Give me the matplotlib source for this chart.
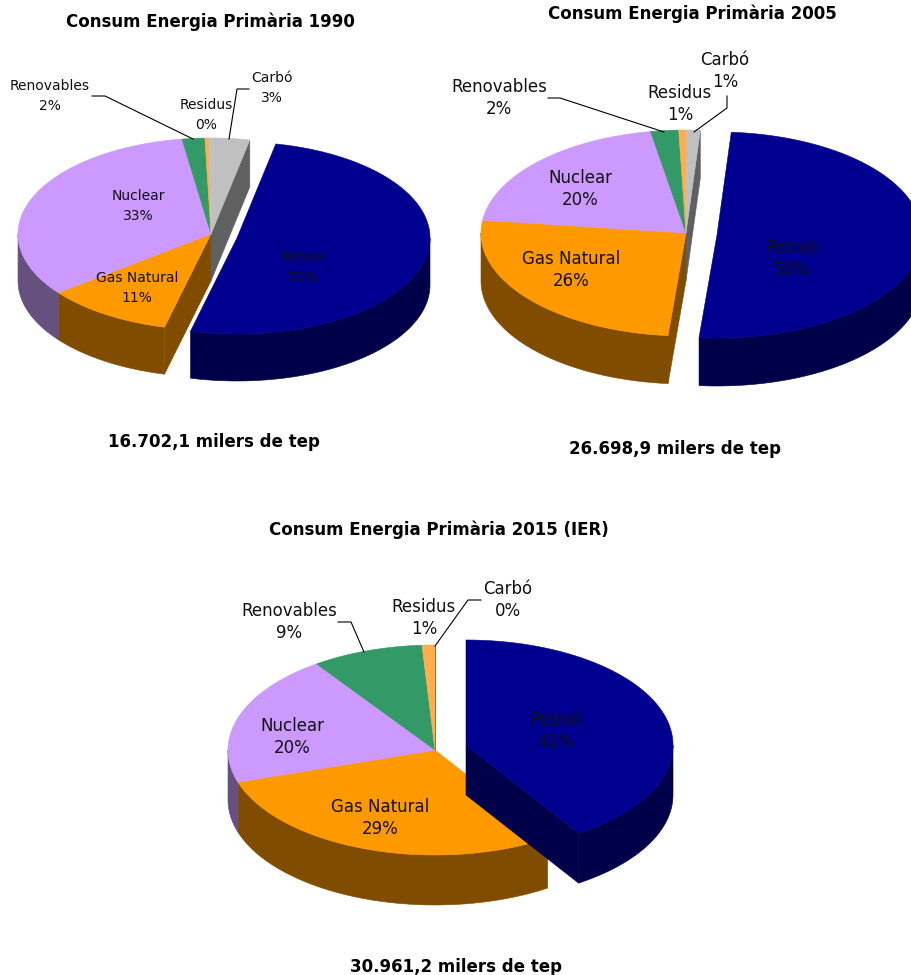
#!/usr/bin/env python3
# -*- coding: utf-8 -*-
# Consum d'energia primaria: tres pastissos 3D dibuixats a mà

import numpy as np
import matplotlib
matplotlib.use('Agg')
import matplotlib.pyplot as plt
from matplotlib.patches import Polygon

W, H = 912, 975

fonts = ['Petroli', 'Gas Natural', 'Nuclear', 'Renovables', 'Residus', 'Carbó']
valors_1990 = [50.7, 10.67, 33.1, 1.9, 0.33, 3.4]
valors_2005 = [50.3, 25.6, 20.25, 2.2, 0.6, 1.08]
valors_2015 = [40.85, 29.2, 20.25, 8.7, 1, 0]
pct_1990 = ['51%', '11%', '33%', '2%', '0%', '3%']
pct_2005 = ['50%', '26%', '20%', '2%', '1%', '1%']
pct_2015 = ['41%', '29%', '20%', '9%', '1%', '0%']

colors_top = ['#000090', '#FF9900', '#CC99FF', '#339966', '#FFAD4D', '#C0C0C0']
colors_side = ['#00004A', '#804D00', '#665080', '#1A4D33', '#805726', '#606060']


def punt(c, rx, ry, ang):
    # ang en graus, sentit horari des de dalt
    a = np.radians(ang)
    return c[0] + rx*np.sin(a), c[1] - ry*np.cos(a)


def arc(c, rx, ry, a0, a1):
    t = np.linspace(a0, a1, max(int(abs(a1-a0)*2), 2))
    x, y = punt(c, rx, ry, t)
    return np.column_stack([x, y])


def poly(ax, pts, color, z):
    ax.add_patch(Polygon(pts, closed=True, fc=color, ec=color, lw=0.4, zorder=z))


def parets(ax, c, rx, ry, d, a0, a1, color, z, inici=True, fi=True):
    # parets radials
    ac = (c[0], c[1] + d)
    if inici and 180 < a0 % 360 < 360:
        p = punt(c, rx, ry, a0)
        poly(ax, [c, p, (p[0], p[1]+d), ac], color, z)
    if fi and 0 < a1 % 360 < 180:
        p = punt(c, rx, ry, a1)
        poly(ax, [c, p, (p[0], p[1]+d), ac], color, z)
    # paret exterior, nomes la part de davant
    lo, hi = max(a0, 90), min(a1, 270)
    if hi > lo:
        top = arc(c, rx, ry, lo, hi)
        baix = top[::-1] + [0, d]
        poly(ax, np.vstack([top, baix]), color, z + 1)


def pastis(ax, c, c_exp, rx, ry, d, inici, valors):
    v = np.array(valors, dtype=float)
    angles = inici + np.concatenate([[0], np.cumsum(v / v.sum() * 360)])
    n = len(v)
    # la resta del pastis
    for i in range(1, n):
        if v[i] > 0:
            parets(ax, c, rx, ry, d, angles[i], angles[i+1], colors_side[i], 2,
                   inici=i == 1, fi=i == n-1 or v[i+1:].sum() == 0)
    for i in range(1, n):
        if v[i] > 0:
            pts = np.vstack([[c], arc(c, rx, ry, angles[i], angles[i+1])])
            poly(ax, pts, colors_top[i], 4)
    # la porcio separada
    parets(ax, c_exp, rx, ry, d, angles[0], angles[1], colors_side[0], 5)
    pts = np.vstack([[c_exp], arc(c_exp, rx, ry, angles[0], angles[1])])
    poly(ax, pts, colors_top[0], 7)


def etiquetes(ax, pos, pct, mida, interlinia):
    for nom, p, t in zip(fonts, pos, pct):
        ax.text(p[0], p[1], nom + '\n' + t, fontsize=mida, ha='center', va='center',
                color='#111111', linespacing=interlinia, zorder=10)


def guia(ax, pts):
    x, y = zip(*pts)
    ax.plot(x, y, color='black', lw=0.8, zorder=9, solid_joinstyle='miter')


def titol(ax, x, y, text):
    ax.text(x, y, text, fontsize=12, fontweight='bold', ha='center', va='center')


def main():
    plt.rcParams['font.family'] = ['DejaVu Sans']
    fig = plt.figure(figsize=(W/100, H/100), dpi=100)
    ax = fig.add_axes([0, 0, 1, 1])
    ax.set_xlim(0, W)
    ax.set_ylim(H, 0)
    ax.axis('off')

    # 1990
    pastis(ax, (211, 234), (237, 238), 193, 96, 47, 11.6, valors_1990)
    etiquetes(ax, [(303, 268), (137, 288), (138, 206), (50, 96), (206, 115), (272, 88)],
              pct_1990, 10, 1.5)
    guia(ax, [(92, 96), (105, 96), (193, 139)])
    guia(ax, [(249, 89), (237, 89), (229, 139)])
    titol(ax, 210, 22, 'Consum Energia Primària 1990')
    titol(ax, 214, 442, '16.702,1 milers de tep')

    # 2005
    pastis(ax, (686, 233), (717, 235), 205, 103, 48, 4, valors_2005)
    etiquetes(ax, [(792, 259), (571, 270), (580, 189), (499, 98), (680, 104), (725, 71)],
              pct_2005, 12, 1.3)
    guia(ax, [(548, 98), (560, 98), (664, 132)])
    guia(ax, [(727, 96), (727, 108), (694, 132)])
    titol(ax, 692, 14, 'Consum Energia Primària 2005')
    titol(ax, 675, 449, '26.698,9 milers de tep')

    # 2015
    pastis(ax, (435, 750), (466, 745), 207, 105, 50, 0, valors_2015)
    etiquetes(ax, [(556, 731), (380, 818), (292, 737), (289, 622), (424, 618), (508, 600)],
              pct_2015, 12, 1.33)
    guia(ax, [(338, 622), (351, 622), (364, 652)])
    guia(ax, [(481, 600), (468, 600), (435, 646)])
    titol(ax, 439, 530, 'Consum Energia Primària 2015 (IER)')
    titol(ax, 456, 967, '30.961,2 milers de tep')

    fig.savefig('out.png', dpi=100)


if __name__ == '__main__':
    main()
